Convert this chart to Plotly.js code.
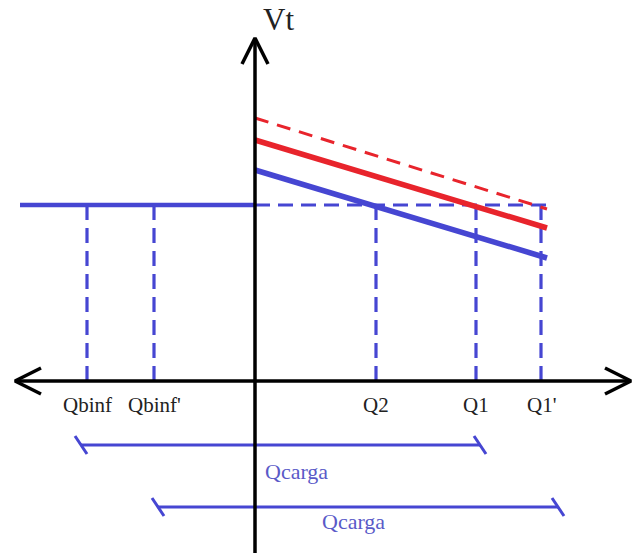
<!DOCTYPE html>
<html>
<head>
<meta charset="utf-8">
<script src="https://cdn.plot.ly/plotly-3.0.1.min.js"></script>
<style>html,body{margin:0;padding:0;background:#fff;}#chart{width:633px;height:558px;}</style>
</head>
<body>
<div id="chart"></div>
<script>
// Diagram values (origin at the axes crossing; units are diagram units)
const qLabels = ["Qbinf", "Qbinf'", "Q2", "Q1", "Q1'"];
const qValues = [-168, -101, 121, 221, 286];
const vRef = 176;                 // reference voltage level (horizontal line)
const vRefStart = -235;           // left end of solid reference line
const vRefEnd = 292;              // right end of dashed reference line
const droopX = [0, 292];          // droop characteristic x extent
const blueDroop = [211, 123];
const redDroop = [241, 153];
const redDroopDashed = [263, 172];
const xAxisExtent = [-240, 376];
const yAxisExtent = [-172, 343];
const qcargaLabels = ["Qcarga", "Qcarga"];
const qcargaSpans = [[-174, 225], [-97, 303]];
const qcargaLevels = [-64, -126];
const qcargaTextPos = [[41, -90], [98, -140]];
const vLabel = "Vt";

const BLUE = '#4646d2';
const RED = '#e8242c';
const BLACK = '#000000';
const traces = [];
function seg(x, y, color, width, dash) {
  traces.push({x: x, y: y, mode: 'lines', type: 'scatter', hoverinfo: 'skip',
    line: {color: color, width: width, dash: dash || 'solid', shape: 'linear'},
    showlegend: false});
}

// dashed verticals from reference line down to axis
qValues.forEach(q => seg([q, q], [vRef, 0], BLUE, 3.2, '15px,8px'));
// reference level: solid left of axis, dashed right
seg([vRefStart, 0], [vRef, vRef], BLUE, 4.5);
seg([0, vRefEnd], [vRef, vRef], BLUE, 3.2, '15px,8px');
// droop lines
seg(droopX, redDroopDashed, RED, 3, '14px,9px');
seg(droopX, redDroop, RED, 5.5);
seg(droopX, blueDroop, BLUE, 5.5);

// Qcarga spans with slanted end ticks
qcargaSpans.forEach((s, i) => {
  const y = qcargaLevels[i];
  seg(s, [y, y], BLUE, 3);
  s.forEach(x => seg([x - 6, x + 6], [y + 9, y - 9], BLUE, 3));
});

// axes with open arrowheads
seg(xAxisExtent, [0, 0], BLACK, 3.5);
seg([0, 0], yAxisExtent, BLACK, 3.5);
const aw = 26, ah = 13;
seg([xAxisExtent[0] + aw, xAxisExtent[0], xAxisExtent[0] + aw], [ah, 0, -ah], BLACK, 3.5);
seg([xAxisExtent[1] - aw, xAxisExtent[1], xAxisExtent[1] - aw], [ah, 0, -ah], BLACK, 3.5);
seg([-ah, 0, ah], [yAxisExtent[1] - aw, yAxisExtent[1], yAxisExtent[1] - aw], BLACK, 3.5);

const annotations = [];
qLabels.forEach((t, i) => annotations.push({x: qValues[i], y: -24, text: t, showarrow: false,
  xanchor: 'center', yanchor: 'middle', font: {family: 'Liberation Serif', size: 21, color: '#222'}}));
qcargaLabels.forEach((t, i) => annotations.push({x: qcargaTextPos[i][0], y: qcargaTextPos[i][1], text: t, showarrow: false,
  xanchor: 'center', yanchor: 'middle', font: {family: 'Liberation Serif', size: 22, color: '#5a5ac8'}}));
annotations.push({x: 23, y: 362, text: vLabel, showarrow: false, xanchor: 'center', yanchor: 'middle',
  font: {family: 'Liberation Serif', size: 31, color: '#222'}});

const layout = {
  width: 633, height: 558,
  margin: {l: 0, r: 0, t: 0, b: 0},
  paper_bgcolor: '#ffffff', plot_bgcolor: '#ffffff',
  xaxis: {range: [-255, 378], visible: false, fixedrange: true},
  yaxis: {range: [-177, 381], visible: false, fixedrange: true},
  annotations: annotations,
  showlegend: false
};
Plotly.newPlot('chart', traces, layout, {staticPlot: true, displayModeBar: false});
</script>
</body>
</html>
